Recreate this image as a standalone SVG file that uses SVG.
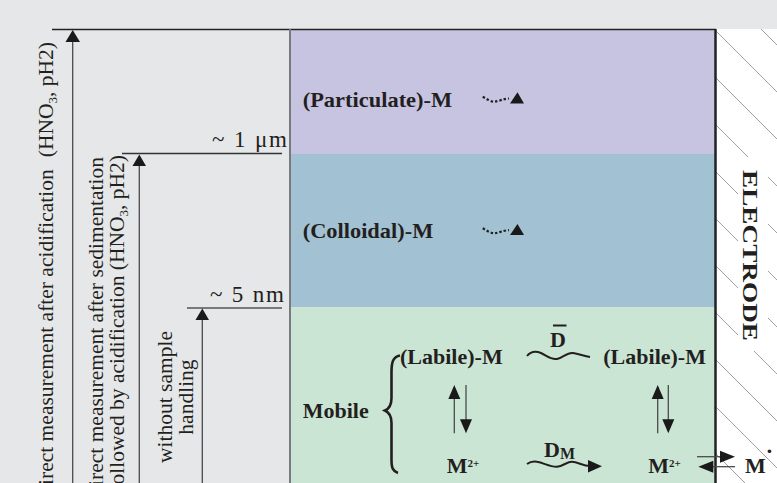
<svg xmlns="http://www.w3.org/2000/svg" width="777" height="483" viewBox="0 0 777 483">
<style>
.lt{font-family:"Liberation Serif","Times New Roman",serif;font-size:21.5px;fill:#231f20}
.bt{font-family:"Liberation Serif","Times New Roman",serif;font-size:22px;font-weight:bold;fill:#231f20}
.sz{font-family:"Liberation Serif","Times New Roman",serif;font-size:23px;fill:#231f20}
.ax{stroke:#4a4a4a;stroke-width:1.3;fill:none}
.hd{fill:#1a1a1a}
.hatch{stroke:#a0a0a0;stroke-width:1}
.wave{stroke:#231f20;stroke-width:2;fill:none}
.dot{stroke:#231f20;stroke-width:2.2;fill:none;stroke-dasharray:2.5 2}
</style>
<defs>
<clipPath id="elclip"><rect x="716" y="29" width="61" height="454"/></clipPath>
</defs>
<rect x="0" y="0" width="777" height="483" fill="#e6e7e9"/>
<g id="bands">
<rect x="290" y="29" width="426" height="125" fill="#c7c4e2"/>
<rect x="290" y="154" width="426" height="153" fill="#a2c1d3"/>
<rect x="290" y="307" width="426" height="176" fill="#cbe5d5"/>
</g>
<g id="electrode">
<rect x="716" y="29" width="61" height="454" fill="#ffffff"/>
<g class="hatch" clip-path="url(#elclip)">
<line x1="716" y1="-16" x2="777" y2="45"/>
<line x1="716" y1="31" x2="777" y2="92"/>
<line x1="716" y1="78" x2="777" y2="139"/>
<line x1="716" y1="125" x2="777" y2="186"/>
<line x1="716" y1="172" x2="777" y2="233"/>
<line x1="716" y1="219" x2="777" y2="280"/>
<line x1="716" y1="266" x2="777" y2="327"/>
<line x1="716" y1="313" x2="777" y2="374"/>
<line x1="716" y1="360" x2="777" y2="421"/>
<line x1="716" y1="407" x2="777" y2="468"/>
<line x1="716" y1="454" x2="777" y2="515"/>
</g>
<rect x="738" y="157" width="30" height="194" fill="#ffffff"/>
<text class="bt" font-size="19" transform="translate(743,170) rotate(90)" textLength="171" lengthAdjust="spacingAndGlyphs">ELECTRODE</text>
</g>
<g id="frame">
<line x1="52" y1="29.5" x2="716" y2="29.5" stroke="#222" stroke-width="1.5"/>
<line x1="290" y1="29" x2="290" y2="483" stroke="#7a7a7e" stroke-width="2"/>
<line x1="715.5" y1="29" x2="715.5" y2="483" stroke="#222" stroke-width="2.5"/>
<line x1="122" y1="153.5" x2="282" y2="153.5" stroke="#333" stroke-width="1.3"/>
<line x1="187" y1="308" x2="282" y2="308" stroke="#555" stroke-width="1.3"/>
</g>
<g id="size-labels">
<text class="sz" x="287" y="147" text-anchor="end" textLength="75" lengthAdjust="spacing">~ 1 μm</text>
<text class="sz" x="284" y="302" text-anchor="end" textLength="74" lengthAdjust="spacing">~ 5 nm</text>
</g>
<g id="method-acidification">
<line class="ax" x1="72.7" y1="42" x2="72.7" y2="483"/>
<polygon class="hd" points="72.7,30 65.5,42 80,42"/>
<text class="lt" transform="translate(53,42) rotate(-90)" text-anchor="end">direct measurement after acidification<tspan dx="12">(HNO</tspan><tspan font-size="13" dy="4">3</tspan><tspan dy="-4">, pH2)</tspan></text>
</g>
<g id="method-sedimentation">
<line class="ax" x1="139.3" y1="166" x2="139.3" y2="483"/>
<polygon class="hd" points="139.3,154.5 132.5,166 146,166"/>
<text class="lt" transform="translate(103,157) rotate(-90)" text-anchor="end">direct measurement after sedimentation</text>
<text class="lt" transform="translate(124,155) rotate(-90)" text-anchor="end">followed by acidification (HNO<tspan font-size="13" dy="4">3</tspan><tspan dy="-4">, pH2)</tspan></text>
</g>
<g id="method-direct">
<line class="ax" x1="202.3" y1="320" x2="202.3" y2="483"/>
<polygon class="hd" points="202.3,308.5 195.5,320 209,320"/>
<text class="lt" transform="translate(172,397) rotate(-90)" text-anchor="middle">without sample</text>
<text class="lt" transform="translate(193,397) rotate(-90)" text-anchor="middle">handling</text>
</g>
<g id="particulate">
<text class="bt" x="302.7" y="106.7" textLength="149.5" lengthAdjust="spacingAndGlyphs">(Particulate)-M</text>
<path class="dot" d="M482.7,96.7 C487,99 491,102 495,101.7 C499,101 503,99 509,98.5"/>
<polygon class="hd" points="510,103.5 517.5,92.3 524,103.5"/>
</g>
<g id="colloidal">
<text class="bt" x="302.7" y="238.3" textLength="130.6" lengthAdjust="spacingAndGlyphs">(Colloidal)-M</text>
<path class="dot" d="M482.7,228.3 C487,230.6 491,233.6 495,233.3 C499,232.6 503,230.6 509,230.1"/>
<polygon class="hd" points="510,235.1 517.5,223.9 524,235.1"/>
</g>
<g id="mobile">
<text class="bt" x="302.7" y="418.3">Mobile</text>
<path d="M400,355.5 C393,357 391.5,362 391.5,372 L391.5,398 C391.5,405 389.5,408.5 385,410.5 C389.5,412.5 391.5,416 391.5,423 L391.5,460 C391.5,468 393,471.5 398,473" stroke="#231f20" stroke-width="2.6" fill="none"/>
</g>
<g id="labile-left"><text class="bt" x="400" y="364.3">(Labile)-M</text></g>
<g id="labile-right"><text class="bt" x="603.3" y="364.3">(Labile)-M</text></g>
<g id="m2-left"><text class="bt" x="446.7" y="473.3">M<tspan font-size="11" dy="-6">2+</tspan></text></g>
<g id="m2-right"><text class="bt" x="648.3" y="473.3">M<tspan font-size="11" dy="-6">2+</tspan></text></g>
<g id="m-electrode"><text class="bt" x="745" y="473.3">M<tspan dy="-15">·</tspan></text></g>
<g id="connectors">
<path class="wave" d="M527,356 C531,351 536,351 541,353 C547,356 551,360 557,359 C563,358 567,352 573,353 C579,354 584,356 590,357"/>
<text class="bt" x="550" y="347.3">D</text>
<line x1="553" y1="325.5" x2="566.5" y2="325.5" stroke="#231f20" stroke-width="2"/>
<path class="wave" d="M527,464 C531,461 534,461 537,461.7 C544,463 550,467 557,466.7 C563,466.5 567,461.5 572,461.7 C578,462 583,466 590,466"/>
<polygon class="hd" points="588,460 602,466.2 588,472.5"/>
<text class="bt" x="544" y="456.7">D<tspan font-size="16" dy="2.6">M</tspan></text>
<line class="ax" x1="454.3" y1="398" x2="454.3" y2="433.3"/>
<polygon class="hd" points="454.3,385 448.3,399 460.3,399"/>
<line class="ax" x1="466" y1="385" x2="466" y2="420"/>
<polygon class="hd" points="466,433.3 460,419.3 472,419.3"/>
<line class="ax" x1="657.7" y1="398" x2="657.7" y2="433.3"/>
<polygon class="hd" points="657.7,385 651.7,399 663.7,399"/>
<line class="ax" x1="668.3" y1="385" x2="668.3" y2="420"/>
<polygon class="hd" points="668.3,433.3 662.3,419.3 674.3,419.3"/>
<line class="ax" x1="697" y1="456.7" x2="721" y2="456.7"/>
<polygon class="hd" points="735,456.7 720,450.7 720,462.7"/>
<line class="ax" x1="712" y1="466.7" x2="735" y2="466.7"/>
<polygon class="hd" points="698.3,466.7 713.3,460.7 713.3,472.7"/>
</g>
</svg>
